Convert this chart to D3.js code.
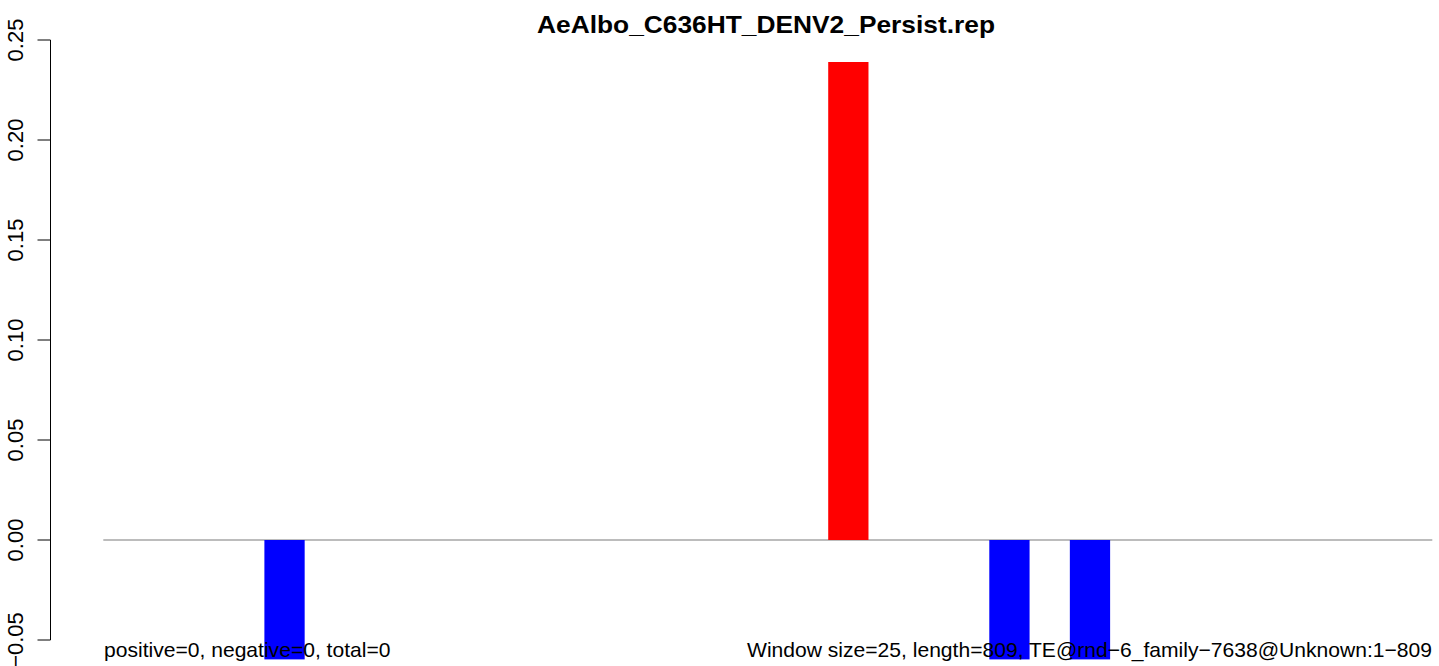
<!DOCTYPE html>
<html>
<head>
<meta charset="utf-8">
<script src="https://cdn.jsdelivr.net/npm/d3@7"></script>
<style>
  html, body { margin: 0; padding: 0; background: #fff; }
  svg { display: block; }
  text { font-family: "Liberation Sans", Arial, sans-serif; }
</style>
</head>
<body>
<svg id="chart" width="1439" height="666"></svg>
<script>
// ---- data ----
const title = "AeAlbo_C636HT_DENV2_Persist.rep";
const windows = d3.range(1, 18);               // 17 windows
const values = [0, 0, -0.0597, 0, 0, 0, 0, 0, 0, 0.239, 0, -0.0597, -0.0597, 0, 0, 0, 0];
const yTicks = [-0.05, 0.00, 0.05, 0.10, 0.15, 0.20, 0.25];
const leftNote = "positive=0, negative=0, total=0";
const rightNote = "Window size=25, length=809, TE@rnd\u22126_family\u22127638@Unknown:1\u2212809";

// ---- layout ----
const svg = d3.select("#chart");
const x = d3.scaleBand().domain(windows).range([103.3, 1432.3]).paddingInner(0.5).paddingOuter(0);
const y = d3.scaleLinear().domain([-0.05, 0.25]).range([640, 40]);

// baseline
svg.append("line")
  .attr("x1", x.range()[0]).attr("x2", x.range()[1])
  .attr("y1", y(0)).attr("y2", y(0))
  .attr("stroke", "#a6a6a6").attr("stroke-width", 1.5);

// bars
svg.append("g").selectAll("rect")
  .data(values.map((v, i) => ({ w: windows[i], v })).filter(d => d.v !== 0))
  .join("rect")
  .attr("x", d => x(d.w))
  .attr("width", x.bandwidth())
  .attr("y", d => y(Math.max(0, d.v)))
  .attr("height", d => Math.abs(y(d.v) - y(0)))
  .attr("fill", d => d.v > 0 ? "#ff0000" : "#0000ff");

// y axis (R style)
const fmt = d3.format(".2f");
const ax = svg.append("g").attr("transform", "translate(50.5,0)");
ax.append("line").attr("x1", 0).attr("x2", 0).attr("y1", y(-0.05)).attr("y2", y(0.25))
  .attr("stroke", "#000").attr("stroke-width", 1);
ax.selectAll("line.tick").data(yTicks).join("line").attr("class", "tick")
  .attr("x1", -13).attr("x2", 0)
  .attr("y1", d => y(d)).attr("y2", d => y(d))
  .attr("stroke", "#000").attr("stroke-width", 1);
ax.selectAll("text").data(yTicks).join("text")
  .attr("transform", d => `translate(-27.8,${y(d)}) rotate(-90)`)
  .attr("text-anchor", "middle")
  .attr("font-size", 22)
  .text(d => fmt(d).replace("-", "\u2212"));

// title
svg.append("text").attr("x", 766).attr("y", 33.3)
  .attr("text-anchor", "middle").attr("font-weight", "bold").attr("font-size", 24)
  .attr("textLength", 458).attr("lengthAdjust", "spacingAndGlyphs")
  .text(title);

// notes
svg.append("text").attr("x", 104).attr("y", 656.7).attr("font-size", 21)
  .attr("textLength", 286.5).attr("lengthAdjust", "spacingAndGlyphs").text(leftNote);
svg.append("text").attr("x", 1432).attr("y", 656.7).attr("text-anchor", "end").attr("font-size", 21)
  .attr("textLength", 685).attr("lengthAdjust", "spacingAndGlyphs").text(rightNote);
</script>
</body>
</html>
